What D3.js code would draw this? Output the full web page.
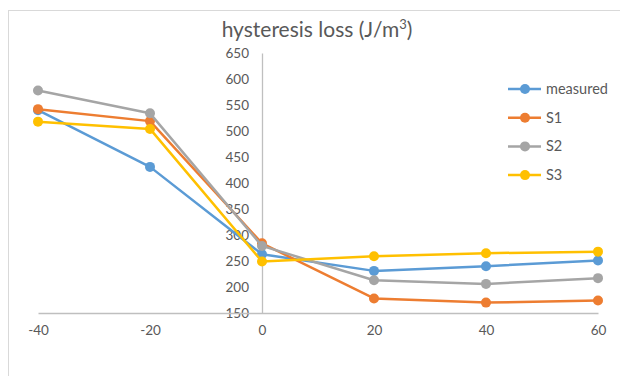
<!DOCTYPE html>
<html>
<head>
<meta charset="utf-8">
<script src="https://cdn.jsdelivr.net/npm/d3@7"></script>
<style>
  body { margin: 0; background: #fff; }
  text { font-family: Lato, "Open Sans", sans-serif; fill: #595959; }
</style>
</head>
<body>
<div id="chart"></div>
<script>
// temperatures on the x axis
const temps = [-40, -20, 0, 20, 40, 60];
const yTicks = [150, 200, 250, 300, 350, 400, 450, 500, 550, 600, 650];

// series values
const measured = [540, 431, 263, 231, 240, 251];
const s1 = [542, 519, 284, 178, 170, 174];
const s2 = [578, 534, 279, 213, 206, 217];
const s3 = [518, 504, 249, 259, 265, 268];

const seriesNames = ["measured", "S1", "S2", "S3"];
const seriesColors = ["#5B9BD5", "#ED7D31", "#A5A5A5", "#FFC000"];

document.addEventListener('DOMContentLoaded', () => {
    const width = 620;
    const height = 376;

    const svg = d3.select("#chart")
        .append("svg")
        .attr("width", width)
        .attr("height", height);

    // chart frame, runs off the right and bottom of the picture
    svg.append("rect")
        .attr("x", 8.5).attr("y", 10.5)
        .attr("width", 700).attr("height", 500)
        .attr("fill", "none")
        .attr("stroke", "#D9D9D9");

    const x = d3.scaleLinear().domain([-40, 60]).range([38, 598]);
    const y = d3.scaleLinear().domain([150, 650]).range([313, 53]);

    // title
    const title = svg.append("text")
        .attr("x", 317).attr("y", 37)
        .attr("text-anchor", "middle")
        .style("font-size", "21px");
    title.append("tspan").text("hysteresis loss (J/m");
    title.append("tspan").text("3").attr("dy", -8).style("font-size", "13px");
    title.append("tspan").text(")").attr("dy", 8);

    // y axis sits at x = 0
    const yAxis = svg.append("g")
        .attr("transform", `translate(${x(0)},0)`)
        .call(d3.axisLeft(y).tickValues(yTicks).tickSize(0).tickPadding(13));
    yAxis.select(".domain").attr("stroke", "#BFBFBF").attr("stroke-width", 1.3);
    yAxis.selectAll("text").style("font-size", "13.5px").style("fill", "#595959");

    const xAxis = svg.append("g")
        .attr("transform", `translate(0,${y(150)})`)
        .call(d3.axisBottom(x).tickValues(temps).tickFormat(d => String(d))
            .tickSize(0).tickPadding(12));
    xAxis.select(".domain").attr("stroke", "#BFBFBF").attr("stroke-width", 1.3);
    xAxis.selectAll("text").style("font-size", "13.5px").style("fill", "#595959");

    const data = [measured, s1, s2, s3];
    const line = d3.line()
        .x((d, i) => x(temps[i]))
        .y(d => y(d));

    data.forEach((vals, k) => {
        svg.append("path")
            .datum(vals)
            .attr("d", line)
            .attr("fill", "none")
            .attr("stroke", seriesColors[k])
            .attr("stroke-width", 2.5)
            .attr("stroke-linejoin", "round");
        svg.append("g")
            .selectAll("circle")
            .data(vals)
            .enter()
            .append("circle")
            .attr("cx", (d, i) => x(temps[i]))
            .attr("cy", d => y(d))
            .attr("r", 5)
            .attr("fill", seriesColors[k]);
    });

    // legend
    const legend = svg.append("g")
        .selectAll("g")
        .data(seriesNames)
        .enter()
        .append("g")
        .attr("transform", (d, i) => `translate(508,${89 + i * 28.7})`);
    legend.append("line")
        .attr("x1", 0).attr("x2", 33)
        .attr("stroke", (d, i) => seriesColors[i])
        .attr("stroke-width", 2.5);
    legend.append("circle")
        .attr("cx", 17).attr("r", 5)
        .attr("fill", (d, i) => seriesColors[i]);
    legend.append("text")
        .attr("x", 38).attr("dy", "0.35em")
        .style("font-size", "14.5px")
        .text(d => d);
});
</script>
</body>
</html>
